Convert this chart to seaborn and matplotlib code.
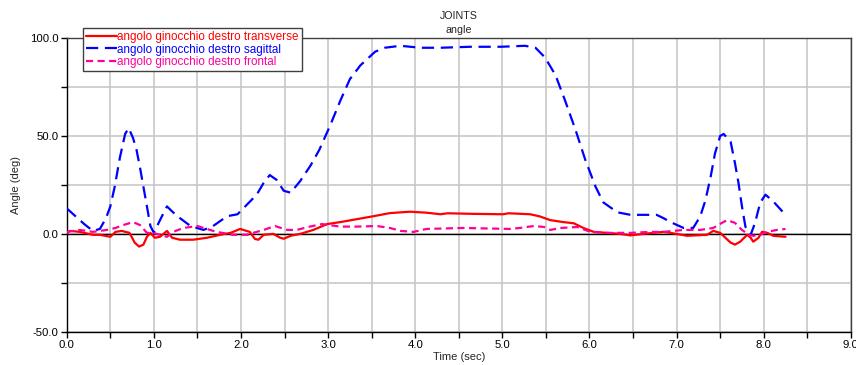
import matplotlib
matplotlib.use("Agg")
import matplotlib.pyplot as plt
from matplotlib.ticker import MultipleLocator, FormatStrFormatter
import numpy as np
import pandas as pd
import seaborn as sns

# Knee joint angles over time (deg)
sagittal_t = [0.00, 0.10, 0.20, 0.30, 0.38, 0.45, 0.50, 0.55, 0.61, 0.67, 0.71, 0.76, 0.80, 0.84,
              0.90, 0.96, 1.00, 1.07, 1.15, 1.22, 1.30, 1.42, 1.57, 1.68, 1.84, 1.96, 2.07, 2.18,
              2.26, 2.33, 2.41, 2.49, 2.57, 2.68, 2.80, 2.90, 3.02, 3.14, 3.25, 3.37, 3.54, 3.65,
              3.83, 4.06, 4.29, 4.63, 4.98, 5.26, 5.38, 5.49, 5.61, 5.72, 5.84, 5.95, 6.07, 6.16,
              6.32, 6.47, 6.70, 6.77, 6.85, 6.93, 7.08, 7.19, 7.27, 7.33, 7.39, 7.44, 7.50, 7.54,
              7.62, 7.67, 7.71, 7.75, 7.79, 7.85, 7.90, 7.96, 8.02, 8.11, 8.25]
sagittal_v = [13, 9, 5, 1.5, 2.5, 8, 14, 24, 39, 51, 54, 49, 43, 34,
              19, 4, 0.5, 7, 14, 11, 8, 4, 2, 4, 9, 10, 15, 20,
              26, 30, 27.5, 22, 21, 27, 35, 43, 55, 68, 79, 86, 93, 95,
              96, 95, 95, 95.5, 95.5, 96, 95, 90, 81, 68, 53, 38, 24, 16,
              11, 9.7, 9.7, 9.7, 8, 6, 3, 3, 8.8, 17, 29, 41, 50, 51,
              47, 36, 26, 14, 3.6, -0.5, 5.6, 16, 20, 16.5, 9.7]

transverse_t = [0.00, 0.04, 0.15, 0.30, 0.38, 0.50, 0.56, 0.63, 0.72, 0.78, 0.83, 0.88, 0.92, 0.96,
                1.01, 1.07, 1.15, 1.21, 1.30, 1.45, 1.61, 1.76, 1.88, 1.99, 2.10, 2.16, 2.20, 2.26,
                2.37, 2.45, 2.49, 2.57, 2.68, 2.83, 2.99, 3.14, 3.33, 3.52, 3.71, 3.94, 4.13, 4.29,
                4.37, 4.67, 5.01, 5.07, 5.32, 5.43, 5.55, 5.70, 5.82, 5.93, 6.05, 6.20, 6.35, 6.47,
                6.62, 6.85, 6.93, 7.12, 7.35, 7.42, 7.50, 7.62, 7.67, 7.73, 7.81, 7.85, 7.88, 7.94,
                7.98, 8.04, 8.11, 8.25]
transverse_v = [0.5, 1.5, 1, -0.5, -0.5, -1.5, 1, 1.5, 0.5, -4.5, -6.5, -5.5, -1.5, 0.5,
                -2, -1.5, 1.5, -2, -3, -3, -2, -0.5, 0.5, 2.5, 1, -2.6, -3, -0.5,
                0, -2, -2.5, -1, 0, 2, 5, 6, 7.5, 9, 10.6, 11.3, 10.8, 10,
                10.5, 10.2, 10, 10.5, 10, 8.9, 7, 6, 5.4, 3, 1, 0.5, 0, -0.8,
                0, 1, 0.5, -1, -0.5, 1.5, 0.5, -4.5, -5.5, -4, -0.5, -2, -4, -2,
                1, 0.5, -1, -1.5]

frontal_t = [0.00, 0.15, 0.30, 0.46, 0.56, 0.65, 0.76, 0.84, 0.92, 0.99, 1.07, 1.15, 1.22, 1.34,
             1.50, 1.57, 1.72, 1.91, 2.07, 2.14, 2.26, 2.39, 2.53, 2.64, 2.79, 2.93, 3.14, 3.33,
             3.56, 3.71, 3.83, 3.98, 4.13, 4.55, 5.09, 5.20, 5.36, 5.48, 5.55, 5.67, 5.86, 6.01,
             6.20, 6.47, 6.70, 6.85, 7.08, 7.27, 7.42, 7.52, 7.58, 7.67, 7.75, 7.83, 7.88, 7.96,
             8.04, 8.15, 8.25]
frontal_v = [1, 2, 1, 2, 3, 4.5, 6, 4.5, 0.5, 0.5, -0.5, -1.5, 1, 3,
             4, 3, 1, -0.5, -0.5, 0.5, 2, 4, 2, 2, 3.7, 5, 3.7, 3.7,
             4, 3, 1.5, 1, 2.5, 3, 2.5, 3, 4, 3.5, 2, 3, 3.5, 1,
             0.5, 0.5, 1, 1, 2, 2, 3, 5.6, 7, 5.6, 2, -0.5, -1, -0.5,
             1, 2, 2.5]

labels = ["angolo ginocchio destro transverse",
          "angolo ginocchio destro sagittal",
          "angolo ginocchio destro frontal"]
colors = ["#ff0000", "#0000ff", "#ff0099"]

sns.set_style("white")
plt.rcParams["font.family"] = ["Liberation Sans", "DejaVu Sans"]

fig = plt.figure(figsize=(8.56, 3.65), dpi=100)
ax = fig.add_axes([0.078, 0.091, 0.916, 0.805])

# grid
ax.set_xlim(0, 9)
ax.set_ylim(-50, 100)
ax.xaxis.set_major_locator(MultipleLocator(1.0))
ax.xaxis.set_minor_locator(MultipleLocator(0.5))
ax.yaxis.set_major_locator(MultipleLocator(50))
ax.yaxis.set_minor_locator(MultipleLocator(25))
ax.xaxis.set_major_formatter(FormatStrFormatter("%.1f"))
ax.yaxis.set_major_formatter(FormatStrFormatter("%.1f"))
ax.grid(True, which="both", color="#c8c8c8", linewidth=1.2, zorder=0)
ax.axhline(0, color="black", linewidth=1.0, zorder=1)

series = [
    (transverse_t, transverse_v, "-"),
    (sagittal_t, sagittal_v, (0, (5.5, 3.0))),
    (frontal_t, frontal_v, (0, (3.2, 2.0))),
]
for (t, v, ls), lab, col in zip(series, labels, colors):
    df = pd.DataFrame({"t": t, "v": v})
    sns.lineplot(data=df, x="t", y="v", ax=ax, color=col, linewidth=1.6,
                 linestyle=ls, label=lab, zorder=3, legend=False)

for name, sp in ax.spines.items():
    sp.set_visible(True)
    sp.set_linewidth(1.0)
    sp.set_color("#000000" if name in ("left", "bottom") else "#404040")

ax.tick_params(axis="both", which="both", direction="out", colors="#000000",
               labelsize=8.2, length=4, width=1, pad=2)
ax.tick_params(axis="x", which="both", bottom=True)
ax.tick_params(axis="y", which="both", left=True)

ax.set_xlabel("Time (sec)", fontsize=8, labelpad=1)
ax.set_ylabel("Angle (deg)", fontsize=8, labelpad=6)

fig.text(0.536, 1 - 16 / 365, "JOINTS", ha="center", va="center", fontsize=7.7)
fig.text(0.536, 1 - 30 / 365, "angle", ha="center", va="center", fontsize=7.7)

handles = ax.get_lines()
handles = [h for h in handles if h.get_label() in labels]
leg = ax.legend(handles, labels, loc="upper left",
                bbox_to_anchor=(83 / 856, 1 - 28 / 365), bbox_transform=fig.transFigure,
                fontsize=8.4, frameon=True, fancybox=False, framealpha=1,
                edgecolor="#404040", handlelength=2.7, handletextpad=0.0,
                labelspacing=0.05, borderpad=0.25, borderaxespad=0)
leg.get_frame().set_linewidth(1.0)
for txt, col in zip(leg.get_texts(), colors):
    txt.set_color(col)
leg.set_zorder(10)

fig.savefig("out.png", dpi=100)
